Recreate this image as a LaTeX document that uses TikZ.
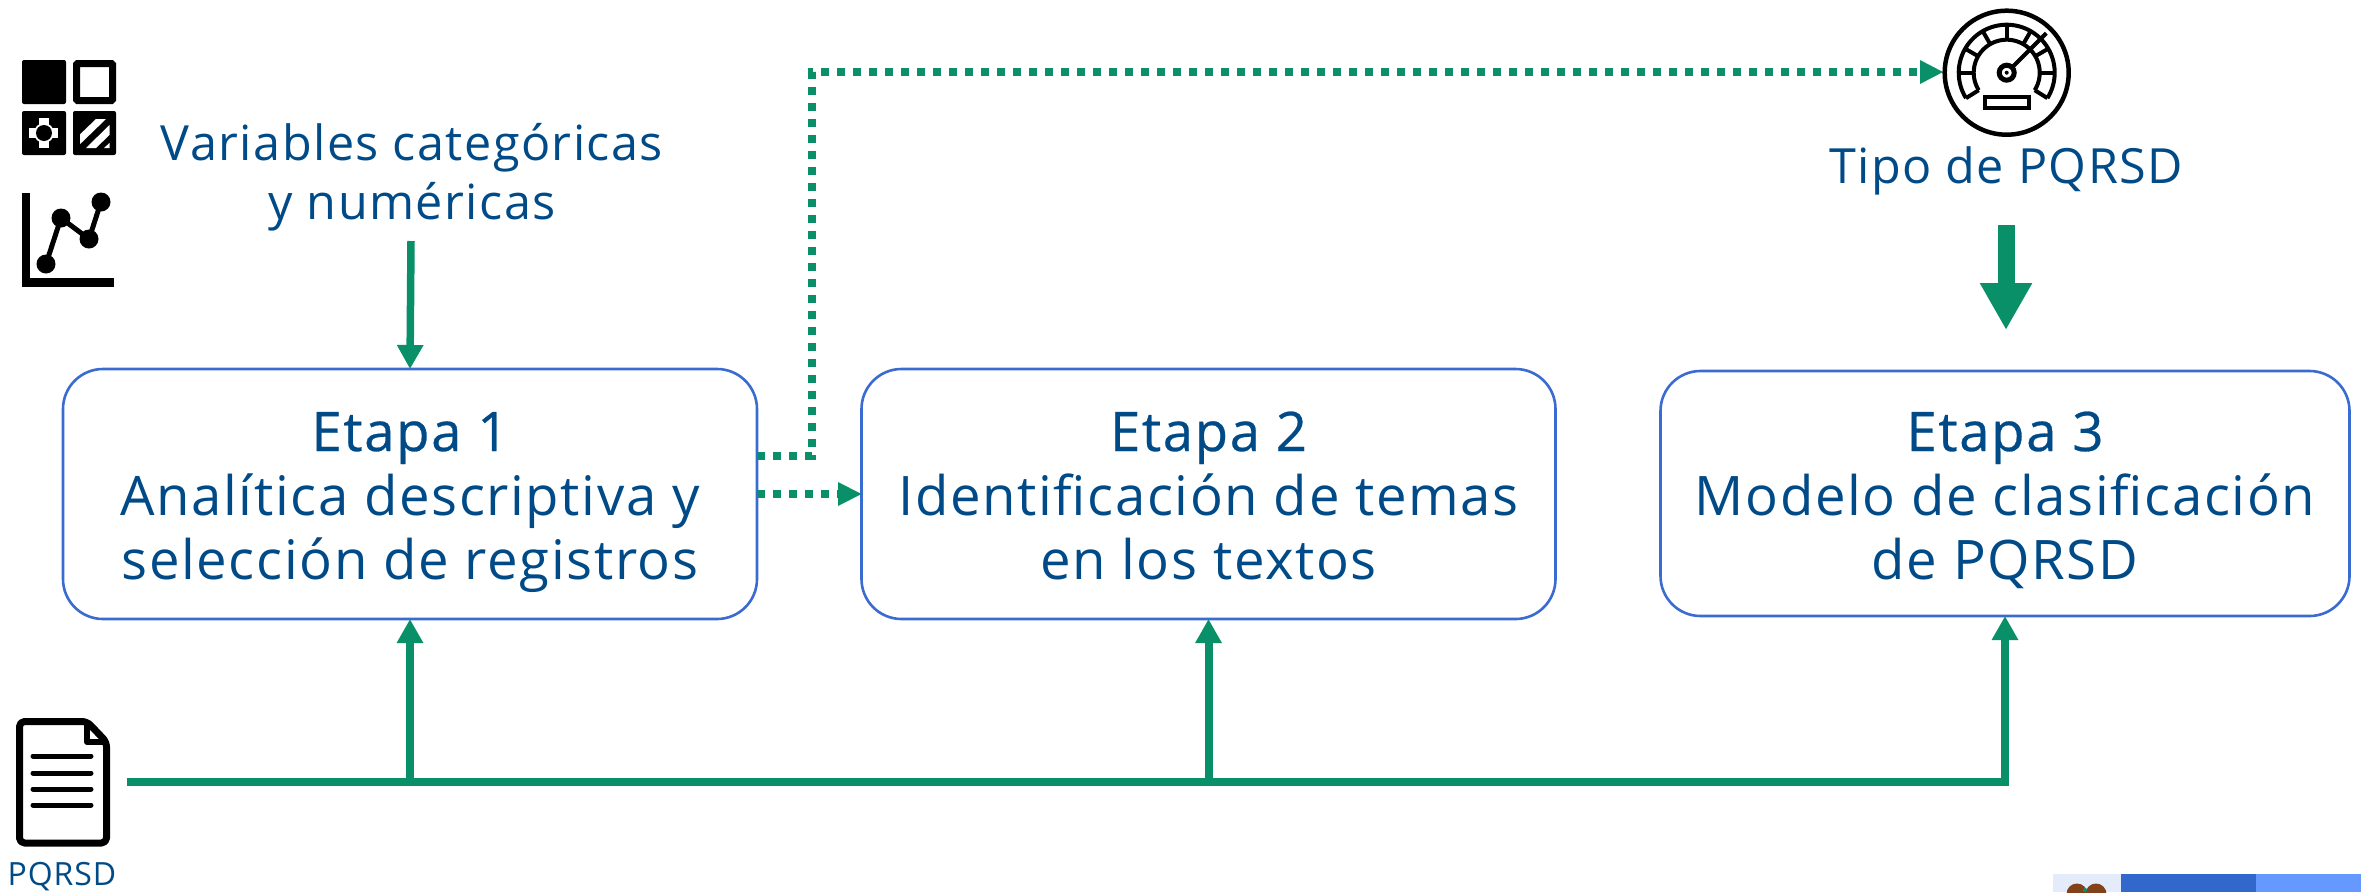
\documentclass[tikz,border=0pt]{standalone}
\usepackage{fontspec}
\setmainfont{Open Sans}[LetterSpace=3]
\usetikzlibrary{arrows.meta}
\definecolor{grn}{HTML}{0A9068}
\definecolor{txt}{HTML}{004B87}
\definecolor{bdr}{HTML}{3A6BD0}
\definecolor{stripA}{HTML}{E4ECFB}
\definecolor{stripB}{HTML}{3268CC}
\definecolor{stripC}{HTML}{6699FF}
\definecolor{crest}{HTML}{824119}
\newcommand{\stagehead}[1]{\rule{0pt}{50pt}{\addfontfeature{FakeBold=0.5}#1}}
\newcommand{\stagelast}{\rule[-15pt]{0pt}{15pt}}
\tikzset{
  stagebox/.style={draw=bdr,line width=2.6pt,rounded corners=40pt,fill=white,inner sep=0pt,outer sep=0pt,text=txt,align=center,font=\fontsize{54.5}{64}\selectfont},
  lab/.style={text=txt,align=center,inner sep=0pt,font=\fontsize{48.5}{58.5}\selectfont},
  flow/.style={draw=grn,line width=7.5pt,-{Triangle[length=24pt,width=25pt]}},
  plainflow/.style={draw=grn,line width=8pt},
  dots/.style={draw=grn,line width=8.5pt,dash pattern=on 8pt off 8pt},
  gaugeline/.style={line width=4pt},
}
\begin{document}
\begin{tikzpicture}[x=1pt,y=-1pt]
\useasboundingbox (0,0) rectangle (2361,892);
% boxes
\node[stagebox,minimum width=694pt,minimum height=250pt] (e1) at (410,494) {};
\node[stagebox,minimum width=694pt,minimum height=250pt] (e2) at (1208.5,494) {};
\node[stagebox,minimum width=689pt,minimum height=245pt] (e3) at (2005,493.5) {};
\node[stagebox,draw=none,fill=none,rounded corners=0pt] (t1) at (410,497.5) {\stagehead{Etapa 1}\\Analítica descriptiva y\\selección de registros\stagelast};
\node[stagebox,draw=none,fill=none,rounded corners=0pt] (t2) at (1208.5,497.5) {\stagehead{Etapa 2}\\Identificación de temas\\en los textos\stagelast};
\node[stagebox,draw=none,fill=none,rounded corners=0pt] (t3) at (2005,497.5) {\stagehead{Etapa 3}\\Modelo de clasificación\\de PQRSD\stagelast};
% labels
\node[lab] (vars) at (412,177) {Variables categóricas\\y numéricas};
\node[lab] (tipo) at (2006,170.5) {Tipo de PQRSD};
\node[text=txt,inner sep=0pt,font=\fontsize{32}{36}\selectfont] (pq) at (62,877) {PQRSD};
% connector anchors
\coordinate (varsEnd) at (411,241);
\coordinate (busL) at (127,782);
\coordinate (b1) at (e1.south |- busL);
\coordinate (b2) at (e2.south |- busL);
\coordinate (b3) at (e3.south |- busL);
\coordinate (d1) at (757,456);
\coordinate (d2) at (812,456);
\coordinate (d3) at (812,72);
\coordinate (g) at (1943,72);
\coordinate (s1) at (757,494);
\coordinate (tipoEnd) at (2006,225);
% connectors
\draw[flow] (varsEnd) -- (e1.north);
\draw[plainflow] (busL) -- (b3);
\draw[flow,line width=8pt] (b1) -- (e1.south);
\draw[flow,line width=8pt] (b2) -- (e2.south);
\draw[flow,line width=8pt] ([yshift=-4pt]b3) -- (e3.south);
\draw[dots] (d1) -- (d2) -- (d3) -- (1920,72);
\fill[grn] (1920,60) -- (g) -- (1920,84) -- cycle;
\draw[dots] (s1) -- (838,494);
\fill[grn] (838,482) -- (e2.west |- s1) -- (838,506) -- cycle;
\draw[draw=grn,line width=17pt,-{Triangle[length=47pt,width=49pt]}] (tipoEnd) -- (2006,330);
% grid icon
\fill[rounded corners=2pt] (22,60) rectangle (66,104);
\draw[line width=7pt,rounded corners=1pt] (76.5,63.5) rectangle (112.5,100.5);
\fill[rounded corners=2pt] (22,111) rectangle (66,155);
\fill[white] (29,128) rectangle (58,138);
\fill[white] (39,118) rectangle (49,148);
\fill[white] (44,133) circle (10);
\fill[black] (44,133) circle (8);
\fill[rounded corners=2pt] (73,111) rectangle (116,155);
\begin{scope}
\clip (80,119) rectangle (109.5,148);
\fill[white] (72,142) -- (96,119) -- (106,119) -- (74,150) -- cycle;
\fill[white] (86,148) -- (109.5,125) -- (109.5,135) -- (96,148) -- cycle;
\fill[white] (104,148) -- (109.5,143) -- (109.5,148) -- cycle;
\end{scope}
% chart icon
\fill (22,193) rectangle (30,287);
\fill (22,278) rectangle (114,287);
\draw[line width=5pt] (46,264) -- (61,218) -- (89,239) -- (101,202);
\fill (46,264) circle (9.5) (61,218) circle (9.5) (89,239) circle (9.5) (101,202) circle (9.5);
% gauge icon
\begin{scope}[shift={(2006.7,72.7)}]
\draw[line width=4.5pt] (0,0) circle (62);
\draw[gaugeline] plot[domain=-212:32,samples=60] ({48*cos(\x)},{48*sin(\x)});
\draw[gaugeline] plot[domain=-212:32,samples=60] ({33*cos(\x)},{33*sin(\x)});
\draw[gaugeline] (-212:33) -- (-212:48) (32:33) -- (32:48);
\foreach \a in {0,-30,-60,-90,-120,-150,-180} \draw[gaugeline] (\a:33) -- (\a:48);
\draw[gaugeline] (-45:9) -- (-45:56);
\draw[line width=5pt] (0,0) circle (7.5);
\fill (0,0) circle (2);
\draw[gaugeline] (-22,24.5) rectangle (22,35);
\end{scope}
% document icon
\draw[line width=7pt,rounded corners=5pt,line join=round] (19.5,721.5) -- (87,721.5) -- (106.5,742) -- (106.5,843) -- (19.5,843) -- cycle;
\draw[line width=6pt,line join=round] (87,721.5) -- (87,742) -- (106.5,742);
\foreach \y in {756,773,789,805} \draw[line width=5pt,line cap=round] (33,\y) -- (91,\y);
% cropped footer strip
\fill[stripA] (2053,874) rectangle (2121,892);
\fill[stripB] (2121,874) rectangle (2256,892);
\fill[stripC] (2256,874) rectangle (2361,892);
\begin{scope}
\clip (2053,874) rectangle (2121,892);
\fill[crest] (2077,894) circle (10.5) (2096,894) circle (10.5);
\fill[grn] (2085,890) circle (2);
\end{scope}
\end{tikzpicture}
\end{document}
